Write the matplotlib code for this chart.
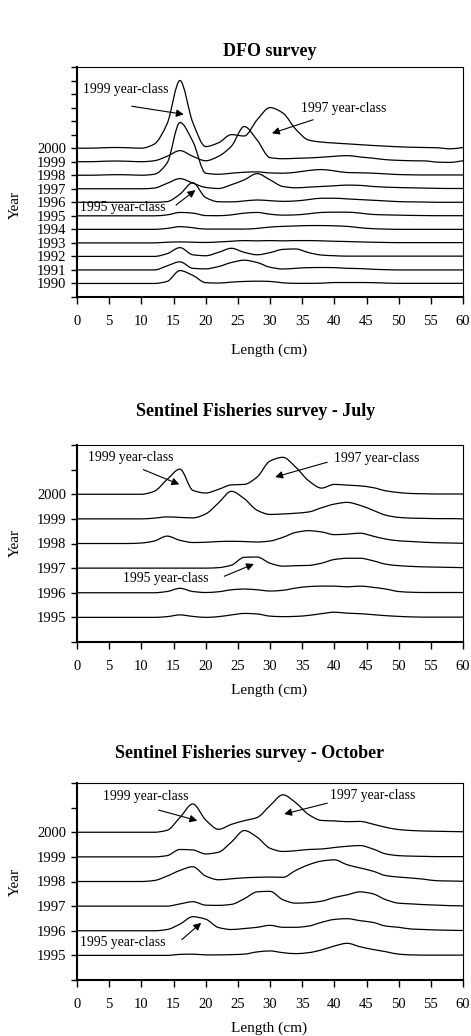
import numpy as np
import matplotlib
matplotlib.use('Agg')
import matplotlib.pyplot as plt
from matplotlib.path import Path
from matplotlib.patches import PathPatch

plt.rcParams['font.family'] = ['Liberation Serif', 'DejaVu Serif']

# Length classes (cm) shared by all panels
lengths = list(range(0, 61, 2))

# Heights above each year's baseline (in year-spacing units)
# --- DFO survey
dfo_2000 = [0, 0, 0.03, 0.05, 0.03, 0, 0.3, 1.8, 5.0, 1.9, 0.12, 0.4, 1.0, 0.9, 2.1, 3.0,
            2.6, 1.4, 0.6, 0.45, 0.38, 0.32, 0.26, 0.2, 0.15, 0.1, 0.07, 0.05, 0.03, -0.05, 0.05]
dfo_1999 = [0, 0, 0.03, 0.05, 0.03, 0, 0.07, 0.4, 0.82, 0.4, 0.07, 0.4, 1.15, 2.6, 1.6, 0.3,
            0.22, 0.25, 0.28, 0.33, 0.4, 0.45, 0.35, 0.26, 0.15, 0.1, 0.07, 0.06, -0.03, -0.05, 0.07]
dfo_1998 = [0, 0, 0.02, 0.04, 0.03, 0, 0.07, 0.9, 3.9, 2.5, 0.15, 0.07, 0.15, 0.22, 0.25, 0.17,
            0.15, 0.22, 0.35, 0.42, 0.32, 0.2, 0.18, 0.15, 0.1, 0.05, 0.03, 0.02, 0.02, 0.02, 0.02]
dfo_1997 = [0, 0, 0, 0, 0, 0, 0.05, 0.4, 0.75, 0.42, 0.1, 0.02, 0.3, 0.66, 1.12, 0.66,
            0.17, 0.07, 0.12, 0.17, 0.22, 0.27, 0.25, 0.17, 0.12, 0.09, 0.07, 0.05, 0.03, 0.02, 0.02]
dfo_1996 = [0, 0, 0, 0, 0, 0, 0, 0.05, 0.6, 1.45, 0.35, 0.04, 0.03, 0.1, 0.17, 0.12,
            0.07, 0.1, 0.2, 0.3, 0.3, 0.25, 0.2, 0.15, 0.1, 0.05, 0.03, 0.02, 0, 0, 0]
dfo_1995 = [0, 0, 0, 0, 0, 0, 0, 0.07, 0.25, 0.2, 0.02, 0.01, 0.07, 0.2, 0.25, 0.12,
            0.05, 0.07, 0.15, 0.25, 0.27, 0.27, 0.2, 0.1, 0.07, 0.05, 0.03, 0.02, 0.01, 0.01, 0.01]
dfo_1994 = [0, 0, 0, 0, 0, 0, 0, 0.07, 0.2, 0.12, 0.02, 0.02, 0.02, 0.02, 0.07, 0.17,
            0.22, 0.25, 0.28, 0.28, 0.26, 0.22, 0.12, 0.05, 0.02, 0, 0, 0, 0, 0, 0]
dfo_1993 = [0, 0, 0, 0, 0, 0, 0, 0.05, 0.07, 0.05, 0.03, 0.07, 0.12, 0.17, 0.15, 0.17,
            0.15, 0.17, 0.17, 0.15, 0.12, 0.1, 0.07, 0.05, 0.03, 0.02, 0.02, 0.02, 0.02, 0.02, 0.02]
dfo_1992 = [0, 0, 0, 0, 0, 0, 0, 0.2, 0.65, 0.12, 0.05, 0.3, 0.6, 0.3, 0.12, 0.28,
            0.52, 0.55, 0.28, 0.1, 0.05, 0.02, 0.02, 0.02, 0.02, 0.02, 0.02, 0.02, 0.02, 0.02, 0.02]
dfo_1991 = [0, 0, 0, 0, 0, 0, 0, 0.3, 0.6, 0.12, 0.08, 0.25, 0.55, 0.72, 0.55, 0.2,
            0.07, 0.12, 0.17, 0.18, 0.17, 0.12, 0.1, 0.05, 0.02, 0, 0, 0, 0, 0, 0]
dfo_1990 = [0, 0, 0, 0, 0, 0, 0, 0.15, 0.95, 0.6, 0.06, 0.03, 0.1, 0.15, 0.17, 0.15,
            0.05, 0.01, 0.01, 0.02, 0.07, 0.07, 0.07, 0.06, 0.03, 0.01, 0.01, 0.01, 0.01, 0.01, 0.01]

# --- Sentinel Fisheries survey, July
jul_2000 = [0, 0, 0, 0, 0, 0, 0.12, 0.6, 1.02, 0.16, 0.05, 0.2, 0.38, 0.4, 0.7, 1.35,
            1.5, 1.1, 0.55, 0.25, 0.4, 0.37, 0.34, 0.27, 0.14, 0.07, 0.03, 0.02, 0.01, 0.01, 0.01]
jul_1999 = [0, 0, 0, 0, 0, 0, 0.03, 0.08, 0.06, 0.04, 0.2, 0.65, 1.12, 0.82, 0.35, 0.18,
            0.2, 0.23, 0.28, 0.45, 0.6, 0.67, 0.55, 0.35, 0.15, 0.06, 0.03, 0.02, 0.01, 0.01, 0]
jul_1998 = [0, 0, 0, 0, 0, 0.02, 0.1, 0.3, 0.13, 0.04, 0.05, 0.08, 0.09, 0.08, 0.06, 0.1,
            0.25, 0.45, 0.52, 0.47, 0.36, 0.38, 0.42, 0.3, 0.18, 0.11, 0.08, 0.05, 0.03, 0.02, 0.01]
jul_1997 = [0, 0, 0, 0, 0, 0, 0, 0, 0, 0, 0, 0.02, 0.12, 0.44, 0.45, 0.2,
            0.08, 0.1, 0.11, 0.2, 0.35, 0.4, 0.4, 0.3, 0.16, 0.1, 0.07, 0.05, 0.04, 0.03, 0.02]
jul_1996 = [0, 0, 0, 0, 0, 0, 0, 0.05, 0.18, 0.05, 0.01, 0.04, 0.12, 0.15, 0.12, 0.07,
            0.1, 0.19, 0.25, 0.27, 0.27, 0.24, 0.27, 0.22, 0.15, 0.05, 0.02, 0.01, 0.01, 0.01, 0.01]
jul_1995 = [0, 0, 0, 0, 0, 0, 0, 0.03, 0.1, 0.04, 0, 0.03, 0.1, 0.16, 0.14, 0.05,
            0.03, 0.04, 0.08, 0.15, 0.21, 0.17, 0.15, 0.11, 0.07, 0.04, 0.02, 0.01, 0.01, 0.01, 0.01]

# --- Sentinel Fisheries survey, October
oct_2000 = [0, 0, 0, 0, 0, 0, 0, 0.08, 0.6, 1.15, 0.5, 0.12, 0.32, 0.47, 0.6, 1.08,
            1.52, 1.2, 0.72, 0.48, 0.46, 0.43, 0.44, 0.33, 0.2, 0.11, 0.07, 0.05, 0.04, 0.03, 0.02]
oct_1999 = [0, 0, 0, 0, 0, 0, 0, 0.05, 0.3, 0.28, 0.12, 0.19, 0.6, 1.07, 0.8, 0.35,
            0.22, 0.25, 0.3, 0.32, 0.38, 0.43, 0.46, 0.32, 0.12, 0.05, 0.03, 0.02, 0.01, 0.01, 0.01]
oct_1998 = [0, 0, 0, 0, 0, 0, 0.04, 0.22, 0.45, 0.6, 0.22, 0.07, 0.11, 0.15, 0.17, 0.18,
            0.17, 0.45, 0.68, 0.83, 0.88, 0.68, 0.55, 0.42, 0.24, 0.18, 0.14, 0.09, 0.03, 0.02, 0.01]
oct_1997 = [0, 0, 0, 0, 0, 0, 0, 0, 0.09, 0.18, 0.04, 0.03, 0.07, 0.3, 0.58, 0.6,
            0.26, 0.12, 0.14, 0.2, 0.35, 0.46, 0.58, 0.5, 0.26, 0.12, 0.09, 0.06, 0.04, 0.02, 0.01]
oct_1996 = [0, 0, 0, 0, 0, 0, 0, 0.05, 0.27, 0.57, 0.47, 0.13, 0.05, 0.09, 0.14, 0.22,
            0.14, 0.14, 0.19, 0.34, 0.46, 0.49, 0.41, 0.34, 0.19, 0.14, 0.07, 0.05, 0.03, 0.02, 0.01]
oct_1995 = [0, 0, 0, 0, 0, 0, 0, 0, 0.04, 0.05, 0.02, 0.02, 0.03, 0.05, 0.14, 0.18,
            0.11, 0.07, 0.11, 0.22, 0.38, 0.49, 0.35, 0.24, 0.15, 0.05, 0.02, 0.01, 0.01, 0.01, 0.01]

dfo_series = [(2000, dfo_2000), (1999, dfo_1999), (1998, dfo_1998), (1997, dfo_1997),
              (1996, dfo_1996), (1995, dfo_1995), (1994, dfo_1994), (1993, dfo_1993),
              (1992, dfo_1992), (1991, dfo_1991), (1990, dfo_1990)]
jul_series = [(2000, jul_2000), (1999, jul_1999), (1998, jul_1998), (1997, jul_1997),
              (1996, jul_1996), (1995, jul_1995)]
oct_series = [(2000, oct_2000), (1999, oct_1999), (1998, oct_1998), (1997, oct_1997),
              (1996, oct_1996), (1995, oct_1995)]


def smooth_path(x, y):
    # monotone cubic through the points, drawn as bezier segments (like a smoothed line)
    x = np.asarray(x, float)
    y = np.asarray(y, float)
    step = np.diff(x)
    slope = np.diff(y) / step
    d = np.zeros_like(y)
    d[0], d[-1] = slope[0], slope[-1]
    for k in range(1, len(y) - 1):
        a, b = slope[k - 1], slope[k]
        if a * b > 0:
            d[k] = 2 * a * b / (a + b)
    verts = [(x[0], y[0])]
    codes = [Path.MOVETO]
    for k in range(len(x) - 1):
        h = step[k]
        verts += [(x[k] + h / 3, y[k] + d[k] * h / 3),
                  (x[k + 1] - h / 3, y[k + 1] - d[k + 1] * h / 3),
                  (x[k + 1], y[k + 1])]
        codes += [Path.CURVE4] * 3
    return Path(verts, codes)


def draw_panel(ax, series, ylo, yhi, notes):
    for year, vals in series:
        ax.add_patch(PathPatch(smooth_path(lengths, year + np.asarray(vals)),
                               fill=False, edgecolor='black', lw=0.9))
    ax.set_xlim(0, 60)
    ax.set_ylim(ylo, yhi)
    ax.set_xticks(range(0, 61, 5))
    years = [s[0] for s in series]
    ticks = list(range(ylo, yhi + 1))
    ax.set_yticks(ticks)
    ax.set_yticklabels([str(t) if t in years else '' for t in ticks])
    ax.tick_params(axis='y', direction='out', length=4, width=1, labelsize=10.5, pad=4)
    ax.tick_params(axis='x', direction='out', length=5, width=1, labelsize=10.5, pad=8)
    for side in ['left', 'bottom']:
        ax.spines[side].set_linewidth(1.5)
    for side in ['top', 'right']:
        ax.spines[side].set_linewidth(0.8)
    for label, txt_xy, tail, head in notes:
        ax.text(txt_xy[0], txt_xy[1], label, ha='left', va='center', fontsize=9.8)
        ax.annotate('', xy=head, xytext=tail,
                    arrowprops=dict(arrowstyle='-|>', color='black', lw=0.8,
                                    mutation_scale=11, shrinkA=0, shrinkB=0))


W, H = 471, 1036
fig = plt.figure(figsize=(W / 100, H / 100), dpi=100)

ax1 = fig.add_axes([77 / W, 1 - 297 / H, 386 / W, 230 / H])
ax2 = fig.add_axes([77 / W, 1 - 642 / H, 386 / W, 197 / H])
ax3 = fig.add_axes([77 / W, 1 - 980 / H, 386 / W, 197 / H])

draw_panel(ax1, dfo_series, 1989, 2006, [
    ('1999 year-class', (1.0, 2004.3), (8.5, 2003.1), (16.6, 2002.5)),
    ('1997 year-class', (34.8, 2002.9), (36.7, 2002.1), (30.3, 2001.1)),
    ('1995 year-class', (0.4, 1995.58), (15.4, 1995.8), (18.4, 1996.9)),
])
draw_panel(ax2, jul_series, 1994, 2002, [
    ('1999 year-class', (1.7, 2001.5), (10.3, 2001.0), (15.9, 2000.4)),
    ('1997 year-class', (40.0, 2001.45), (38.9, 2001.3), (30.8, 2000.7)),
    ('1995 year-class', (7.1, 1996.56), (22.9, 1996.67), (27.5, 1997.17)),
])
draw_panel(ax3, oct_series, 1994, 2002, [
    ('1999 year-class', (4.0, 2001.47), (12.7, 2000.9), (18.7, 2000.47)),
    ('1997 year-class', (39.3, 2001.5), (38.9, 2001.18), (32.2, 2000.74)),
    ('1995 year-class', (0.5, 1995.51), (16.3, 1995.64), (19.3, 1996.32)),
])

# titles and axis labels placed as in the original layout
titles = [('DFO survey', 270, 51), ('Sentinel Fisheries survey - July', 256, 412),
          ('Sentinel Fisheries survey - October', 250, 753)]
for txt, x, y in titles:
    fig.text(x / W, 1 - y / H, txt, ha='center', va='center', fontsize=13, fontweight='bold')
for y in [350, 690, 1028]:
    fig.text(269 / W, 1 - y / H, 'Length (cm)', ha='center', va='center', fontsize=11)
for y in [205, 543, 882]:
    fig.text(15 / W, 1 - y / H, 'Year', ha='center', va='center', fontsize=11, rotation=90)

fig.savefig('out.png', dpi=100)
